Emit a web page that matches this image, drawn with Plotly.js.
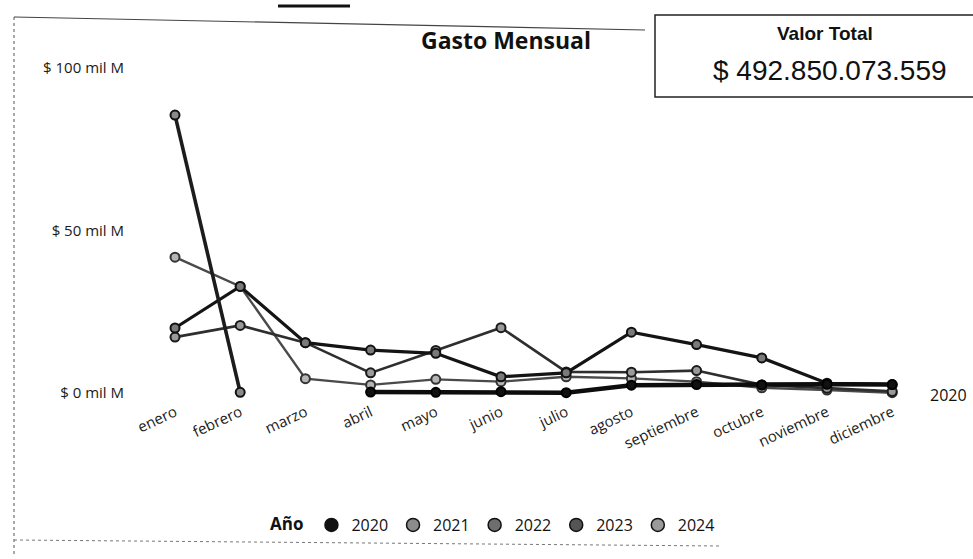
<!DOCTYPE html>
<html>
<head>
<meta charset="utf-8">
<script src="https://cdn.plot.ly/plotly-3.0.1.min.js"></script>
<style>
html,body{margin:0;padding:0;background:#fff;}
#chart{width:973px;height:559px;}
</style>
</head>
<body>
<div id="chart"></div>
<script>
// ---- data (mil M) ----
const months = ['enero','febrero','marzo','abril','mayo','junio','julio','agosto','septiembre','octubre','noviembre','diciembre'];
const years = ['2020','2021','2022','2023','2024'];
const v2020 = [null,null,null,0.3,0.2,0.4,0.1,2.4,2.6,2.5,2.7,2.6];
const v2021 = [17.2,20.8,15.5,6.2,13.1,20.1,6.5,6.4,6.9,2.5,1.5,0.5];
const v2022 = [20.0,32.8,15.5,13.2,12.2,5.0,6.2,18.7,14.9,10.8,3.0,2.6];
const v2023 = [41.8,32.8,4.4,2.5,4.2,3.5,5.0,4.5,3.5,1.6,0.9,0.1];
const v2024 = [85.5,0.2,null,null,null,null,null,null,null,null,null,null];
const yTickVals = [0,50,100];
const yTickText = ['$ 0 mil M','$ 50 mil M','$ 100 mil M'];
const titleText = 'Gasto Mensual';
const totalLabel = 'Valor Total';
const totalValue = '$ 492.850.073.559';
const legendTitle = 'Año';

// ---- styling ----
const series = [
  {name:'2020', y:v2020, line:'#0d0d0d', w:4.5, fill:'#111', outline:'#000'},
  {name:'2021', y:v2021, line:'#2e2e2e', w:2.6, fill:'#9a9a9a', outline:'#1a1a1a'},
  {name:'2022', y:v2022, line:'#141414', w:3.2, fill:'#7a7a7a', outline:'#111'},
  {name:'2023', y:v2023, line:'#4a4a4a', w:2.4, fill:'#b5b5b5', outline:'#333'},
  {name:'2024', y:v2024, line:'#1c1c1c', w:3.6, fill:'#8a8a8a', outline:'#111'}
];
const legendFill = {'2020':'#111','2021':'#8c8c8c','2022':'#6e6e6e','2023':'#555','2024':'#9a9a9a'};

const traces = [];
[3,1,2,0,4].forEach(i=>{
  const s = series[i];
  traces.push({
    type:'scatter', mode:'lines+markers', name:s.name, x:months, y:s.y,
    line:{color:s.line, width:s.w},
    marker:{size:9, color:s.fill, line:{color:s.outline, width:2}},
    showlegend:false, cliponaxis:false, hoverinfo:'x+y+name'
  });
});
years.forEach(yr=>{
  traces.push({
    type:'scatter', mode:'markers', name:yr, x:[null], y:[null],
    marker:{size:13, color:legendFill[yr], line:{color:'#111', width:1.5}},
    showlegend:true
  });
});

// pixel helpers (plot area: x 125..915, y 60..400)
const L=125, R=915, T=60, B=400;
const px = v => (v-L)/(R-L);
const py = v => (B-v)/(B-T);

const layout = {
  width:973, height:559,
  margin:{l:L, r:973-R, t:T, b:559-B},
  paper_bgcolor:'#fff', plot_bgcolor:'#fff',
  font:{family:'Open Sans, Noto Sans, sans-serif', color:'#222'},
  xaxis:{
    type:'category', range:[-0.767, 11.35],
    showgrid:false, zeroline:false, showline:false, ticks:'',
    tickangle:-25, tickfont:{size:15, color:'#1a1a1a'}
  },
  yaxis:{
    range:[-2.15, 102.46], tickvals:yTickVals, ticktext:yTickText,
    showgrid:false, zeroline:false, showline:false, ticks:'',
    tickfont:{size:15, color:'#1a1a1a'}
  },
  showlegend:true,
  legend:{
    orientation:'h', x:px(268), xanchor:'left', y:py(508), yanchor:'top',
    bgcolor:'rgba(0,0,0,0)',
    font:{size:16, color:'#111'},
    title:{text:'<b>'+legendTitle+'</b>', font:{size:17, color:'#111'}, side:'left'},
    itemwidth:30, tracegroupgap:0
  },
  annotations:[
    {xref:'paper', yref:'paper', x:px(506), y:py(40), text:'<b>'+titleText+'</b>',
     showarrow:false, font:{size:23, color:'#111'}, xanchor:'center', yanchor:'middle'},
    {xref:'paper', yref:'paper', x:px(825), y:py(33), text:'<b>'+totalLabel+'</b>',
     showarrow:false, font:{family:'Liberation Sans, Arial, sans-serif', size:19, color:'#111'}, xanchor:'center', yanchor:'middle'},
    {xref:'paper', yref:'paper', x:px(830), y:py(70), text:totalValue,
     showarrow:false, font:{family:'Liberation Sans, Arial, sans-serif', size:28, color:'#111'}, xanchor:'center', yanchor:'middle'},
    {xref:'x', yref:'y', x:months[11], y:v2020[11], text:years[0],
     showarrow:false, xanchor:'left', yanchor:'middle', xshift:36, yshift:-10,
     font:{size:16, color:'#111'}}
  ],
  shapes:[
    {type:'rect', xref:'paper', yref:'paper', x0:px(655), x1:px(990), y0:py(97), y1:py(15),
     line:{color:'#222', width:1.5}},
    {type:'line', xref:'paper', yref:'paper', x0:px(14), x1:px(645), y0:py(17), y1:py(30),
     line:{color:'#444', width:1.2}},
    {type:'line', xref:'paper', yref:'paper', x0:px(14), x1:px(14), y0:py(17), y1:py(556),
     line:{color:'#555', width:1, dash:'dot'}},
    {type:'line', xref:'paper', yref:'paper', x0:px(14), x1:px(720), y0:py(540), y1:py(546),
     line:{color:'#777', width:1, dash:'dot'}},
    {type:'line', xref:'paper', yref:'paper', x0:px(278), x1:px(350), y0:py(6), y1:py(6),
     line:{color:'#111', width:3}}
  ]
};

Plotly.newPlot('chart', traces, layout, {displayModeBar:false, staticPlot:true});
</script>
</body>
</html>
